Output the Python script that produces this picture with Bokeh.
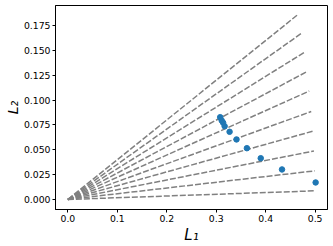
from bokeh.plotting import figure
from bokeh.models import FixedTicker, NumeralTickFormatter, Range1d
from bokeh.embed import file_html
from bokeh.resources import INLINE

# Ray end points (L1, L2), each ray drawn from the origin
ray_end_L1 = [0.4999, 0.4992, 0.4976, 0.4953, 0.4921, 0.4880, 0.4832, 0.4776, 0.4713, 0.4642]
ray_end_L2 = [0.0087, 0.0288, 0.0488, 0.0687, 0.0885, 0.1091, 0.1286, 0.1479, 0.1669, 0.1857]

# Scatter points
pts_L1 = [0.308, 0.311, 0.314, 0.317, 0.327, 0.341, 0.362, 0.390, 0.433, 0.501]
pts_L2 = [0.0828, 0.0795, 0.0772, 0.0737, 0.0681, 0.0604, 0.0516, 0.0415, 0.0302, 0.0171]

x_ticks = [0.0, 0.1, 0.2, 0.3, 0.4, 0.5]
y_ticks = [0.0, 0.025, 0.05, 0.075, 0.1, 0.125, 0.15, 0.175]

p = figure(width=333, height=246, output_backend="svg", toolbar_location=None,
           x_range=Range1d(-0.025, 0.525), y_range=Range1d(-0.0101, 0.1952),
           min_border_left=55, min_border_right=6, min_border_top=5, min_border_bottom=37)

p.multi_line(xs=[[0, ex] for ex in ray_end_L1], ys=[[0, ey] for ey in ray_end_L2],
             line_color="#808080", line_width=1.5, line_dash="6 2")
p.scatter(pts_L1, pts_L2, size=5.5, fill_color="#1f77b4", line_color="#1f77b4")

p.xgrid.visible = False
p.ygrid.visible = False
p.outline_line_color = "black"
p.outline_line_width = 1
p.outline_line_alpha = 1

p.xaxis.ticker = FixedTicker(ticks=x_ticks)
p.yaxis.ticker = FixedTicker(ticks=y_ticks)
p.xaxis.formatter = NumeralTickFormatter(format="0.0")
p.yaxis.formatter = NumeralTickFormatter(format="0.000")

for ax in (p.xaxis, p.yaxis):
    ax.minor_tick_line_color = None
    ax.major_tick_in = 0
    ax.major_tick_out = 3
    ax.axis_line_color = "black"
    ax.major_tick_line_color = "black"
    ax.major_label_text_font = "DejaVu Sans"
    ax.major_label_text_font_size = "9.3px"
    ax.major_label_text_color = "black"
    ax.axis_label_text_font = "DejaVu Sans"
    ax.axis_label_text_font_style = "italic"
    ax.axis_label_text_color = "black"
    ax.major_label_standoff = 2

p.xaxis.axis_label_text_font_size = "15px"
p.xaxis.axis_label_standoff = 1
p.yaxis.axis_label_text_font_size = "14px"
p.yaxis.axis_label_standoff = 0

p.xaxis.axis_label = "L\u2081"
p.yaxis.axis_label = "L\u2082"

open("out.html", "w").write(file_html(p, INLINE))
